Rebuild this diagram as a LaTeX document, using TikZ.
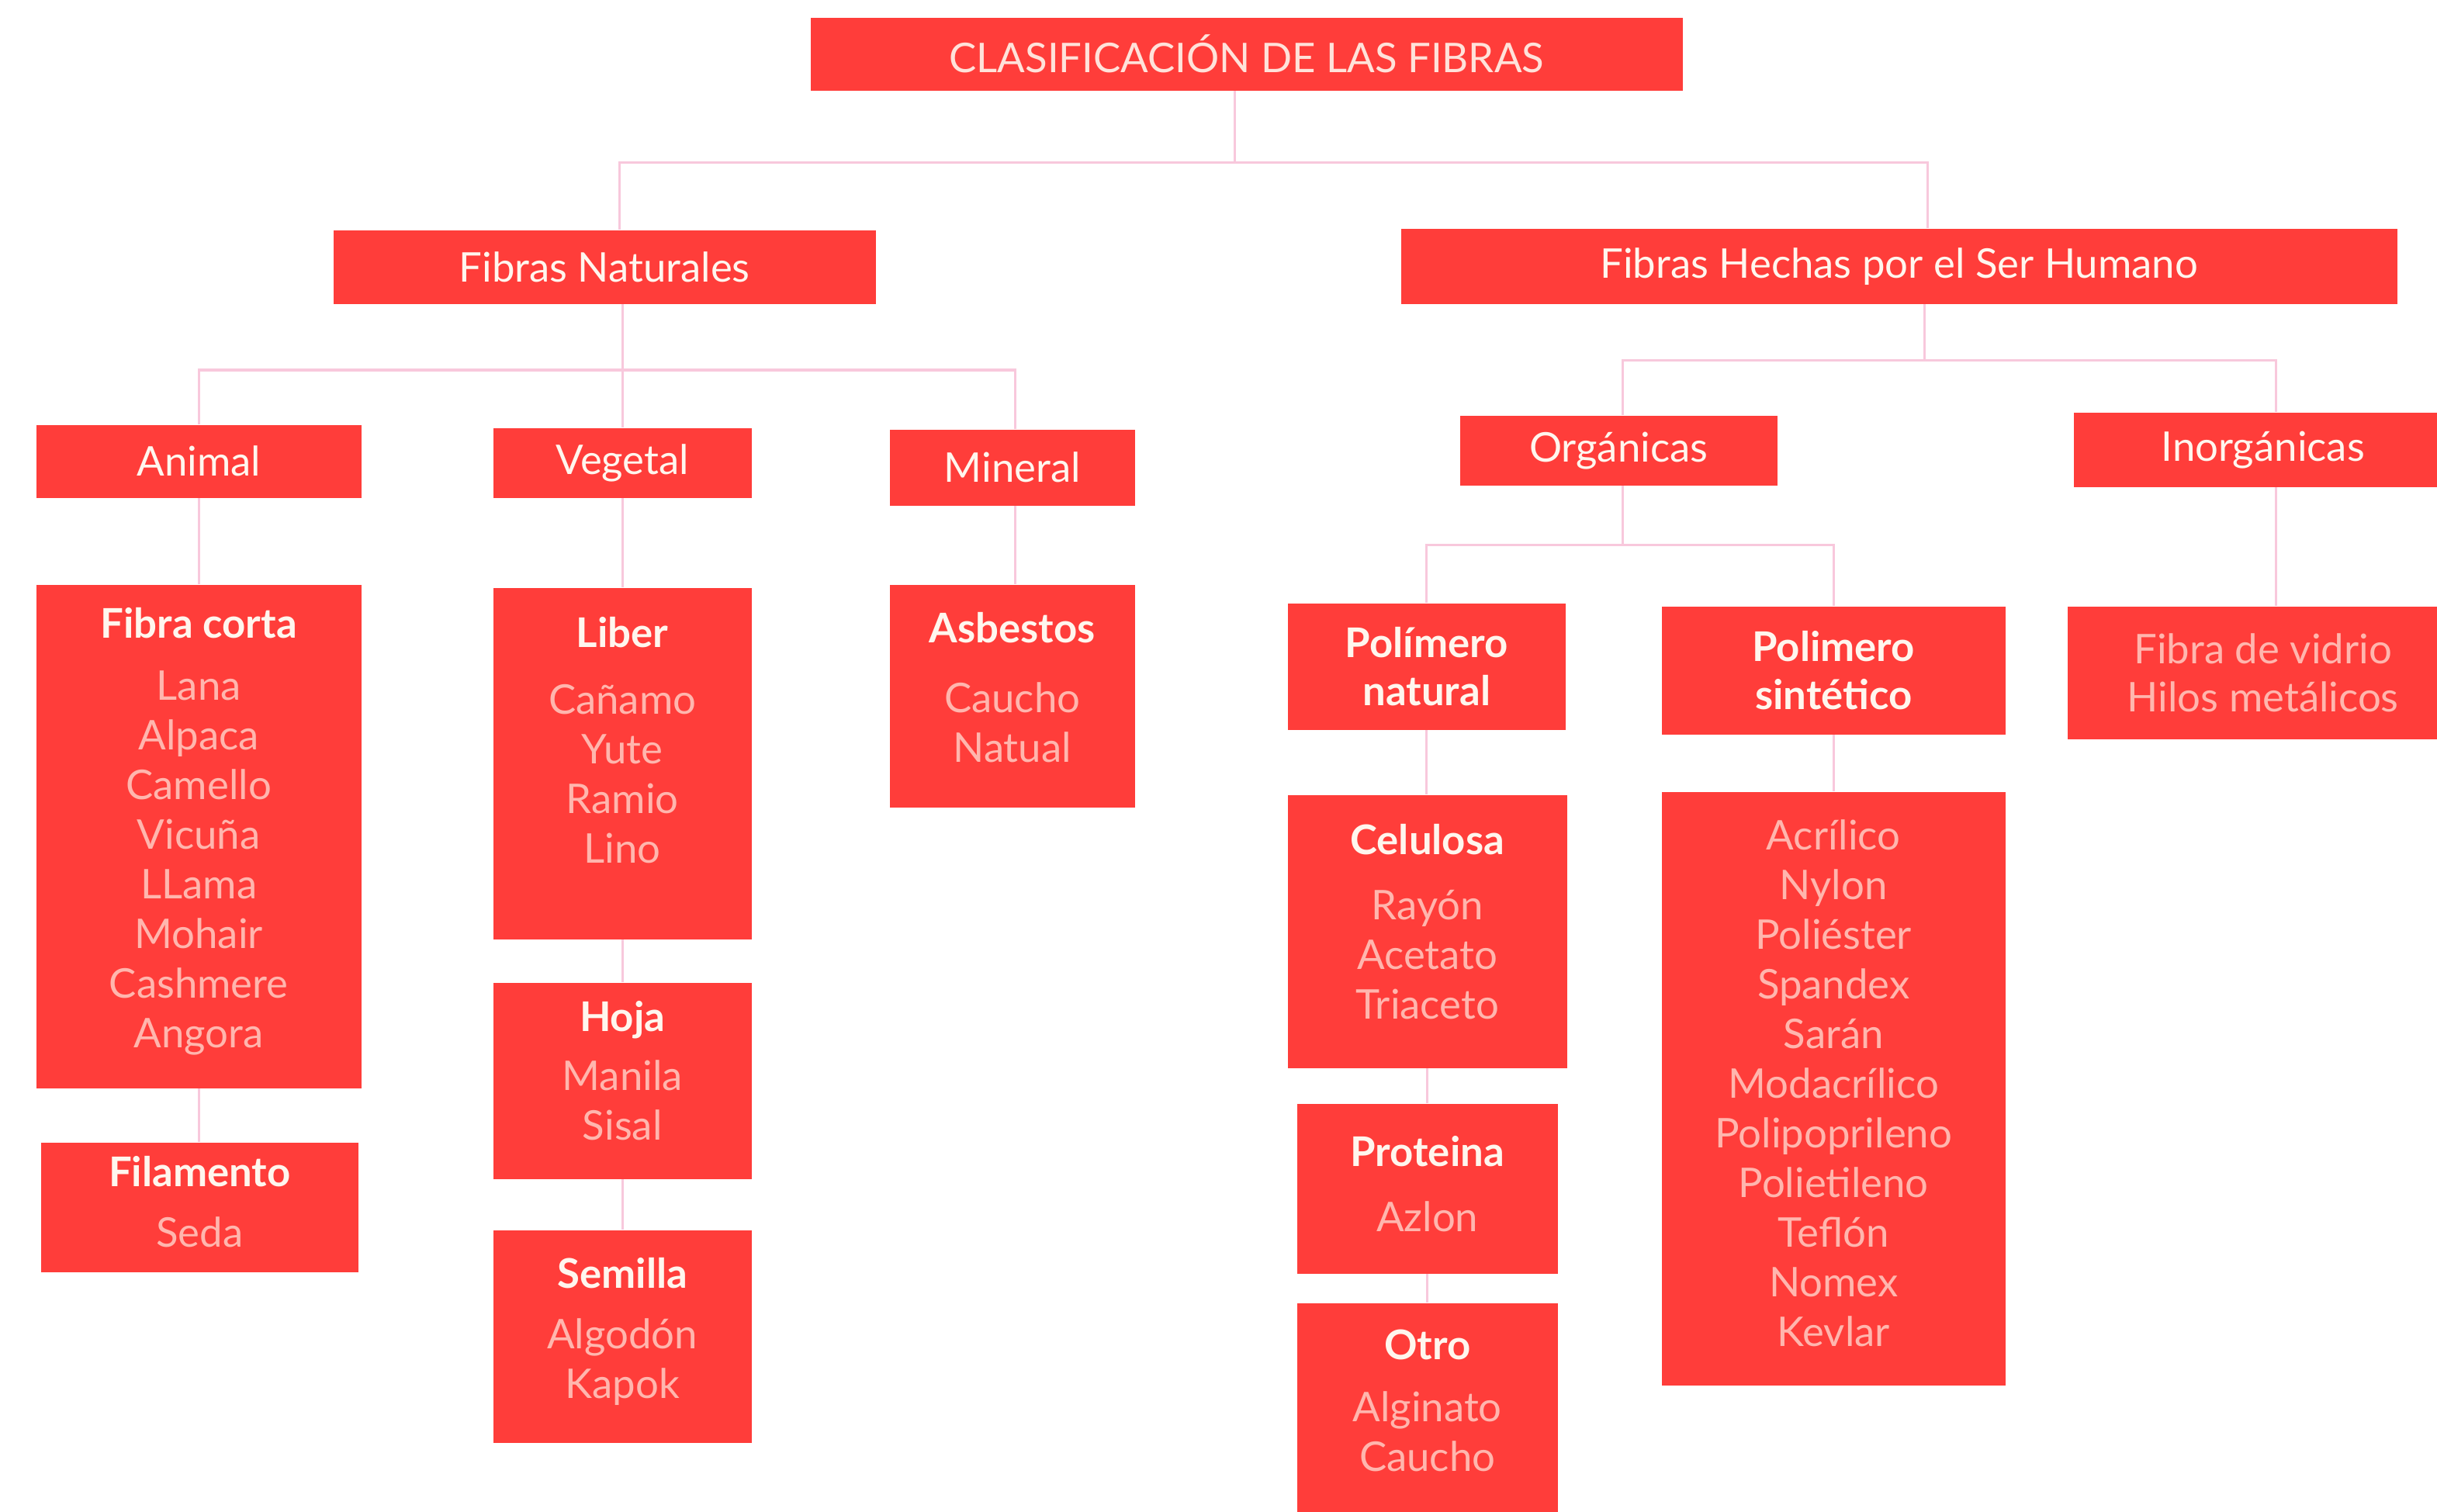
\documentclass[tikz,border=0pt]{standalone}
\usepackage{fontspec}
\setmainfont{Lato}
\usepackage{tikz}
\usepackage{xcolor}

\definecolor{fibred}{RGB}{255,61,58}
\definecolor{itempink}{RGB}{255,182,174}
\definecolor{headwhite}{RGB}{255,246,238}
\definecolor{titlepink}{RGB}{255,226,218}
\definecolor{linkpink}{RGB}{248,200,220}

% header line of a list box, with its baseline at #1 below the top
\newcommand{\hd}[2]{\rule{0pt}{#1}\textcolor{headwhite}{\bfseries #2}}
\newcommand{\cell}[3]{\parbox[c][#1][t]{#2}{\centering #3}}

\tikzset{
  box/.style={fill=fibred, inner sep=0pt, anchor=north west, text=itempink,
    font=\fontsize{15}{18.2}\selectfont},
  cat/.style={box, text=headwhite, align=center},
  link/.style={draw=linkpink, line width=0.9pt}
}

\begin{document}
\begin{tikzpicture}
\useasboundingbox (0,0) rectangle (31.41,-19.48);

\node[cat, text=titlepink, minimum width=11.24cm, minimum height=0.94cm] (title) at (10.44,-0.22) {CLASIFICACIÓN DE LAS FIBRAS};

\node[cat, minimum width=6.99cm, minimum height=0.95cm] (nat) at (4.29,-2.96) {Fibras Naturales};
\node[cat, minimum width=12.84cm, minimum height=0.97cm] (hum) at (18.05,-2.94) {Fibras Hechas por el Ser Humano};

\node[cat, minimum width=4.19cm, minimum height=0.94cm] (animal) at (0.46,-5.47) {Animal};
\node[cat, minimum width=3.33cm, minimum height=0.90cm] (vegetal) at (6.35,-5.51) {Vegetal};
\node[cat, minimum width=3.16cm, minimum height=0.98cm] (mineral) at (11.46,-5.53) {Mineral};
\node[cat, minimum width=4.09cm, minimum height=0.90cm] (org) at (18.81,-5.35) {Orgánicas};
% runs past the right edge
\node[cat, minimum width=4.88cm, minimum height=0.96cm] (inorg) at (26.72,-5.31) {Inorgánicas};

% animal
\node[box] (corta) at (0.46,-7.53) {\cell{6.49cm}{4.19cm}{\hd{0.69cm}{Fibra corta}\\[0.16cm]
  Lana\\Alpaca\\Camello\\Vicuña\\LLama\\Mohair\\Cashmere\\Angora}};
\node[box] (filam) at (0.52,-14.72) {\cell{1.67cm}{4.09cm}{\hd{0.57cm}{Filamento}\\[0.14cm]Seda}};

% vegetal
\node[box] (liber) at (6.35,-7.57) {\cell{4.53cm}{3.33cm}{\hd{0.77cm}{Liber}\\[0.22cm]
  Cañamo\\Yute\\Ramio\\Lino}};
\node[box] (hoja) at (6.35,-12.66) {\cell{2.53cm}{3.33cm}{\hd{0.63cm}{Hoja}\\[0.12cm]Manila\\Sisal}};
\node[box] (semilla) at (6.35,-15.85) {\cell{2.74cm}{3.33cm}{\hd{0.75cm}{Semilla}\\[0.14cm]Algodón\\Kapok}};

% mineral
\node[box] (asbestos) at (11.46,-7.53) {\cell{2.87cm}{3.16cm}{\hd{0.75cm}{Asbestos}\\[0.26cm]Caucho\\Natual}};

% organicas
\node[cat, font=\fontsize{15}{17.6}\selectfont\bfseries, minimum width=3.58cm, minimum height=1.63cm] (polnat) at (16.59,-7.77) {Polímero\\natural};
\node[cat, font=\fontsize{15}{17.6}\selectfont\bfseries, minimum width=4.43cm, minimum height=1.65cm] (polsin) at (21.41,-7.81) {Polimero\\sintético};

\node[box] (celulosa) at (16.59,-10.24) {\cell{3.52cm}{3.60cm}{\hd{0.77cm}{Celulosa}\\[0.20cm]
  Rayón\\Acetato\\Triaceto}};
\node[box] (proteina) at (16.71,-14.22) {\cell{2.19cm}{3.36cm}{\hd{0.81cm}{Proteina}\\[0.20cm]Azlon}};
\node[box] (otro) at (16.71,-16.79) {\cell{2.69cm}{3.36cm}{\hd{0.73cm}{Otro}\\[0.16cm]Alginato\\Caucho}};

\node[box] (sintlist) at (21.41,-10.20) {\cell{7.65cm}{4.43cm}{\rule{0pt}{0.75cm}Acrílico\\Nylon\\Poliéster\\
  Spandex\\Sarán\\Modacrílico\\Polipoprileno\\Polietileno\\Teflón\\Nomex\\Kevlar}};

% inorganicas
\node[cat, text=itempink, font=\fontsize{15}{17.6}\selectfont, minimum width=5.04cm, minimum height=1.71cm] (inorglist) at (26.64,-7.81) {Fibra de vidrio\\Hilos metálicos};

% connectors
\draw[link] ([xshift=-0.15cm]title.south) -- ++(0,-0.92) coordinate (j0);
\draw[link] ([xshift=0.19cm]nat.north) |- (j0) -| ([xshift=0.37cm]hum.north);

\draw[link] (vegetal.north |- nat.south) -- (vegetal.north);
\draw[link] (animal.north) -- ++(0,0.70) -| ([xshift=0.04cm]mineral.north);

\draw[link] ([xshift=0.33cm]hum.south) -- ++(0,-0.72) coordinate (j1);
\draw[link] ([xshift=0.05cm]org.north) |- (j1) -| ([xshift=0.17cm]inorg.north);

\draw[link] ([xshift=0.05cm]org.south) -- ++(0,-0.76) coordinate (j2);
\draw[link] (polnat.north) |- (j2) -| (polsin.north);

\draw[link] (animal.south) -- (animal.south |- corta.north);
\draw[link] (corta.south) -- (corta.south |- filam.north);
\draw[link] (vegetal.south) -- (liber.north);
\draw[link] (liber.south) -- (hoja.north);
\draw[link] (hoja.south) -- (semilla.north);
\draw[link] ([xshift=0.04cm]mineral.south) -- ([xshift=0.04cm]asbestos.north);
\draw[link] (polnat.south) -- (polnat.south |- celulosa.north);
\draw[link] (celulosa.south) -- (celulosa.south |- proteina.north);
\draw[link] (proteina.south) -- (otro.north);
\draw[link] (polsin.south) -- (polsin.south |- sintlist.north);
\draw[link] ([xshift=0.17cm]inorg.south) -- ([xshift=0.17cm]inorg.south |- inorglist.north);
\end{tikzpicture}
\end{document}
